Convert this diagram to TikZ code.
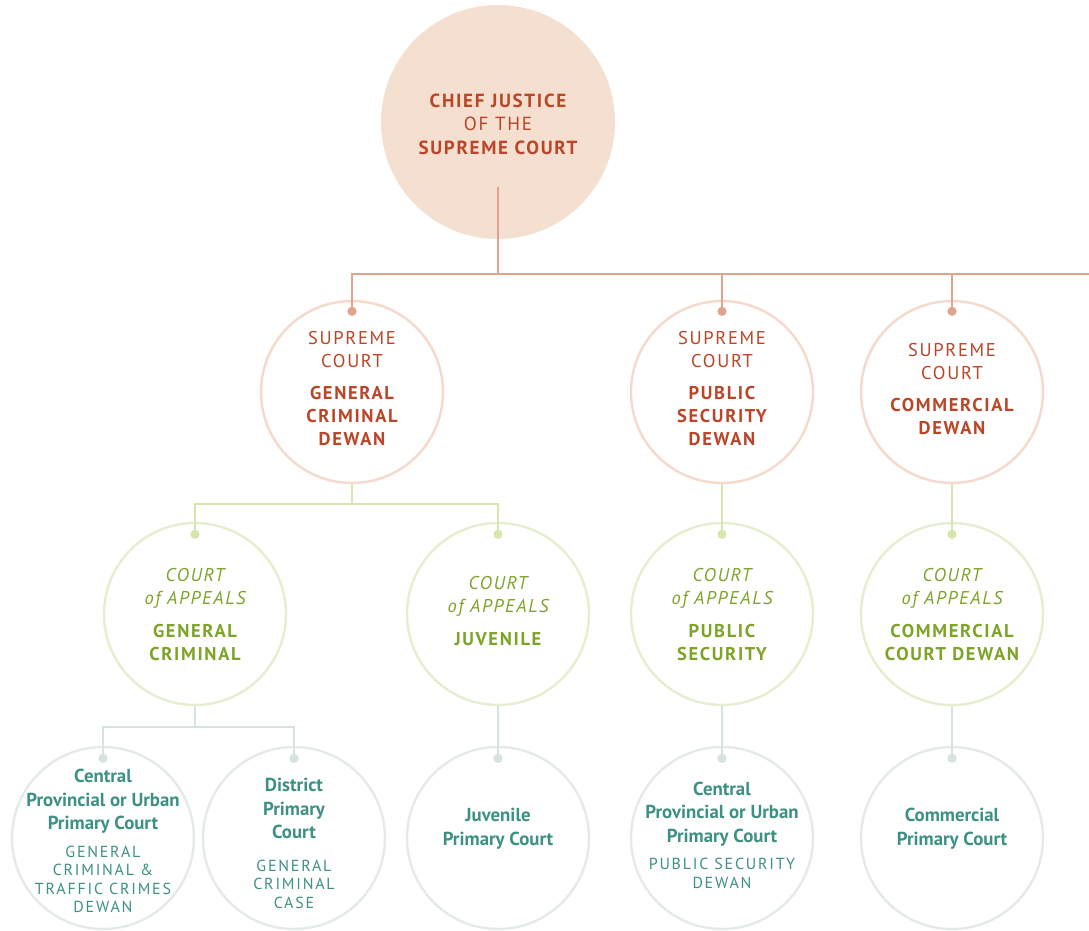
\documentclass[tikz,border=0pt]{standalone}
\usepackage{fontspec}
\setmainfont{PT Sans}
\newfontfamily\spaced[LetterSpace=9]{PT Sans}
\newfontfamily\wide[LetterSpace=11]{PT Sans}
\usepackage{tikz}
\usepackage{xcolor}
\usetikzlibrary{arrows.meta,calc}
\definecolor{peachfill}{HTML}{F5DFD0}
\definecolor{rusttext}{HTML}{BA4527}
\definecolor{rustline}{HTML}{DFA38E}
\definecolor{rustring}{HTML}{F5D9CA}
\definecolor{leaftext}{HTML}{7DA428}
\definecolor{leafline}{HTML}{D5E7AC}
\definecolor{leafring}{HTML}{E5EFCF}
\definecolor{tealtext}{HTML}{3D9184}
\definecolor{tealline}{HTML}{D6E3E1}
\definecolor{tealring}{HTML}{E4EBE7}
\newcommand\boldblock[1]{{\spaced\bfseries\upshape\begin{tabular}[t]{@{}c@{}}#1\end{tabular}}}
\newcommand\subline[1]{{\wide\mdseries\fontsize{16}{18.5}\selectfont\begin{tabular}[t]{@{}c@{}}#1\end{tabular}}}
\newcommand\lift[1]{\rule{0pt}{#1}}
\tikzset{%
  tipO/.tip={Circle[length=9pt]},
  court/.style={circle, minimum size=182pt, inner sep=-40pt, fill=white, line width=2.4pt, align=center},
  chiefball/.style={circle, minimum size=234pt, inner sep=-40pt, fill=peachfill, text=rusttext, align=center,
    font=\spaced\fontsize{19}{23.5}\selectfont},
  dewan/.style={court, draw=rustring, text=rusttext, font=\spaced\fontsize{18.5}{23}\selectfont},
  appeal/.style={court, draw=leafring, text=leaftext, font=\spaced\itshape\fontsize{18.5}{23}\selectfont},
  primary/.style={court, draw=tealring, text=tealtext, font=\fontsize{18.8}{23.5}\selectfont\bfseries},
  rustwire/.style={draw=rustline, line width=2pt},
  leafwire/.style={draw=leafline, line width=2pt},
  tealwire/.style={draw=tealline, line width=2pt}
}

\begin{document}
\begin{tikzpicture}[x=1pt,y=-1pt]
\useasboundingbox (0,0) rectangle (1089,930);
\node[chiefball] (chief) at (498,122) {\lift{24.5pt}\boldblock{CHIEF JUSTICE}\\OF THE\\\boldblock{SUPREME COURT}};
\node[dewan] (sgc) at (352,392) {SUPREME\\COURT\\[9pt]\boldblock{GENERAL\\CRIMINAL\\DEWAN}};
\node[dewan] (sps) at (722,392) {SUPREME\\COURT\\[9pt]\boldblock{PUBLIC\\SECURITY\\DEWAN}};
\node[dewan] (scom) at (952,392) {SUPREME\\COURT\\[9pt]\boldblock{COMMERCIAL\\DEWAN}};
\node[appeal] (gca) at (195,614) {\lift{21pt}COURT\\of APPEALS\\[10pt]\boldblock{GENERAL\\CRIMINAL}};
\node[appeal] (gjuv) at (498,614) {COURT\\of APPEALS\\[10pt]\boldblock{JUVENILE}};
\node[appeal] (gps) at (722,614) {\lift{21pt}COURT\\of APPEALS\\[10pt]\boldblock{PUBLIC\\SECURITY}};
\node[appeal] (gcom) at (952,614) {\lift{21pt}COURT\\of APPEALS\\[10pt]\boldblock{COMMERCIAL\\COURT DEWAN}};
\node[primary] (pc1) at (103,838) {\lift{25.5pt}Central\\Provincial or Urban\\Primary Court\\[4pt]\subline{GENERAL\\CRIMINAL \&\\TRAFFIC CRIMES\\DEWAN}};
\node[primary] (pc2) at (294,838) {\lift{29.5pt}District\\Primary\\Court\\[9pt]\subline{GENERAL\\CRIMINAL\\CASE}};
\node[primary, text depth=22pt] (pc3) at (498,838) {Juvenile\\Primary Court};
\node[primary] (pc4) at (722,838) {Central\\Provincial or Urban\\Primary Court\\[4pt]\subline{PUBLIC SECURITY\\DEWAN}};
\node[primary, text depth=22pt] (pc5) at (952,838) {Commercial\\Primary Court};
\coordinate (stem) at (498,187);
\coordinate (busend) at (1089,274);
\draw[rustwire] (stem) |- (busend);
\draw[rustwire,-tipO] (stem |- busend) -| ($(sgc.north)+(0,16)$);
\draw[rustwire,-tipO] (stem |- busend) -| ($(sps.north)+(0,16)$);
\draw[rustwire,-tipO] (stem |- busend) -| ($(scom.north)+(0,16)$);
\draw[leafwire,-tipO] (sgc.south) -- ++(0,20) -| ($(gca.north)+(0,17)$);
\draw[leafwire,-tipO] (sgc.south) -- ++(0,20) -| ($(gjuv.north)+(0,17)$);
\draw[leafwire,-tipO] (sps.south) -- ($(gps.north)+(0,17)$);
\draw[leafwire,-tipO] (scom.south) -- ($(gcom.north)+(0,17)$);
\draw[tealwire,-tipO] (gca.south) -- ++(0,21) -| ($(pc1.north)+(0,17)$);
\draw[tealwire,-tipO] (gca.south) -- ++(0,21) -| ($(pc2.north)+(0,17)$);
\draw[tealwire,-tipO] (gjuv.south) -- ($(pc3.north)+(0,17)$);
\draw[tealwire,-tipO] (gps.south) -- ($(pc4.north)+(0,17)$);
\draw[tealwire,-tipO] (gcom.south) -- ($(pc5.north)+(0,17)$);
\end{tikzpicture}
\end{document}
